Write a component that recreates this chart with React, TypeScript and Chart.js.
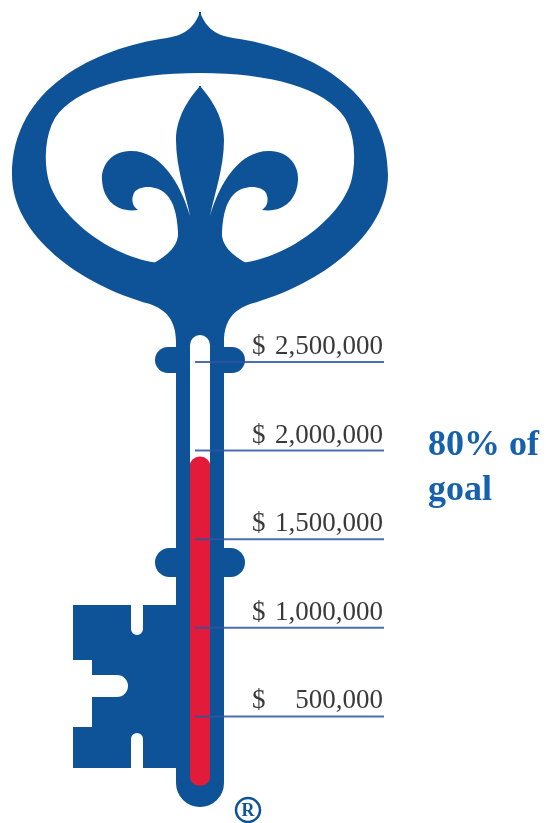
import React, { useEffect, useRef } from 'react';
import { Chart, registerables } from 'chart.js';

Chart.register(...registerables);

// ---- data ----
const categories = ['Raised'];
const raisedRange: [number, number][] = [[110000, 1965000]];
const tickValues = [500000, 1000000, 1500000, 2000000, 2500000];
const tickLabels = ['500,000', '1,000,000', '1,500,000', '2,000,000', '2,500,000'];
const currencySymbol = '$';
const goalLines = ['80% of', 'goal'];
const scaleMin = 0;
const scaleMax = 2500000;

const KEY_BLUE = '#0e5397';
const BAR_RED = '#e31b3b';
const LINE_BLUE = 'rgba(45, 85, 165, 0.85)';
const LABEL_GRAY = '#3a3a3a';
const GOAL_BLUE = '#1561ae';

function mirrored(ctx: CanvasRenderingContext2D, draw: () => void, color: string) {
  ctx.fillStyle = color;
  ctx.beginPath();
  draw();
  ctx.fill();
  ctx.save();
  ctx.translate(400, 0);
  ctx.scale(-1, 1);
  ctx.beginPath();
  draw();
  ctx.fill();
  ctx.restore();
}

function pill(ctx: CanvasRenderingContext2D, x: number, y: number, w: number, h: number) {
  const r = h / 2;
  ctx.beginPath();
  ctx.moveTo(x + r, y);
  ctx.lineTo(x + w - r, y);
  ctx.arc(x + w - r, y + r, r, -Math.PI / 2, Math.PI / 2, false);
  ctx.lineTo(x + r, y + h);
  ctx.arc(x + r, y + r, r, Math.PI / 2, Math.PI * 1.5, false);
  ctx.closePath();
  ctx.fill();
}

const keyPlugin = {
  id: 'keyShape',
  beforeDatasetsDraw(chart: any) {
    const ctx: CanvasRenderingContext2D = chart.ctx;
    ctx.save();
    // outer head
    mirrored(ctx, () => {
      ctx.moveTo(201, 12);
      ctx.lineTo(200, 12);
      ctx.bezierCurveTo(195, 26, 186, 35, 167, 38);
      ctx.bezierCurveTo(95, 48, 12, 88, 12, 175);
      ctx.bezierCurveTo(12, 235, 80, 285, 150, 304);
      ctx.bezierCurveTo(166, 310, 176, 320, 176, 342);
      ctx.lineTo(201, 342);
      ctx.closePath();
    }, KEY_BLUE);
    // inner hole
    mirrored(ctx, () => {
      ctx.moveTo(201, 73);
      ctx.lineTo(200, 73);
      ctx.bezierCurveTo(130, 73, 75, 88, 55, 118);
      ctx.bezierCurveTo(45, 135, 44, 160, 48, 178);
      ctx.bezierCurveTo(56, 215, 110, 258, 160, 263);
      ctx.bezierCurveTo(175, 265, 190, 268, 201, 268);
      ctx.closePath();
    }, '#ffffff');
    // fleur-de-lis
    mirrored(ctx, () => {
      ctx.moveTo(201, 86);
      ctx.lineTo(200, 86);
      ctx.bezierCurveTo(192, 95, 176, 115, 176, 140);
      ctx.bezierCurveTo(176, 168, 186, 195, 190, 216);
      ctx.bezierCurveTo(180, 182, 160, 150, 130, 151);
      ctx.bezierCurveTo(112, 151, 101, 165, 102, 180);
      ctx.bezierCurveTo(103, 200, 117, 213, 138, 210);
      ctx.bezierCurveTo(132, 206, 131, 199, 134, 193);
      ctx.bezierCurveTo(138, 186, 155, 184, 166, 194);
      ctx.bezierCurveTo(174, 202, 177, 215, 178, 232);
      ctx.bezierCurveTo(179, 244, 170, 255, 150, 265);
      ctx.lineTo(150, 290);
      ctx.lineTo(201, 290);
      ctx.closePath();
    }, KEY_BLUE);
    // shaft
    ctx.fillStyle = KEY_BLUE;
    ctx.beginPath();
    ctx.moveTo(176, 330);
    ctx.lineTo(176, 783);
    ctx.arc(200, 783, 24, Math.PI, 0, true);
    ctx.lineTo(224, 330);
    ctx.closePath();
    ctx.fill();
    // knobs
    pill(ctx, 155, 347, 90, 26);
    pill(ctx, 155, 548, 90, 29);
    // bit
    ctx.beginPath();
    ctx.moveTo(73, 605);
    ctx.lineTo(131, 605);
    ctx.lineTo(131, 629);
    ctx.arc(137, 629, 6, Math.PI, 0, true);
    ctx.lineTo(143, 605);
    ctx.lineTo(180, 605);
    ctx.lineTo(180, 768);
    ctx.lineTo(143, 768);
    ctx.lineTo(143, 739);
    ctx.arc(137, 739, 6, 0, Math.PI, true);
    ctx.lineTo(131, 768);
    ctx.lineTo(73, 768);
    ctx.lineTo(73, 727);
    ctx.lineTo(92, 727);
    ctx.lineTo(92, 697);
    ctx.lineTo(117, 697);
    ctx.arc(117, 686, 11, Math.PI / 2, -Math.PI / 2, true);
    ctx.lineTo(92, 675);
    ctx.lineTo(92, 660);
    ctx.lineTo(73, 660);
    ctx.closePath();
    ctx.fill();
    // white channel
    ctx.fillStyle = '#ffffff';
    ctx.beginPath();
    ctx.moveTo(190, 775);
    ctx.lineTo(190, 345);
    ctx.arc(200, 345, 10, Math.PI, 0, false);
    ctx.lineTo(210, 775);
    ctx.arc(200, 775, 10, 0, Math.PI, false);
    ctx.closePath();
    ctx.fill();
    ctx.restore();
  },
  afterDatasetsDraw(chart: any) {
    const ctx: CanvasRenderingContext2D = chart.ctx;
    const ys = chart.scales.y;
    ctx.save();
    tickValues.forEach((v, i) => {
      const y = ys.getPixelForValue(v);
      ctx.strokeStyle = LINE_BLUE;
      ctx.lineWidth = 2;
      ctx.beginPath();
      ctx.moveTo(195, y);
      ctx.lineTo(384, y);
      ctx.stroke();
      ctx.fillStyle = LABEL_GRAY;
      ctx.font = '27px "Liberation Serif", "Times New Roman", serif';
      ctx.textBaseline = 'alphabetic';
      ctx.textAlign = 'left';
      ctx.fillText(currencySymbol, 252, y - 8);
      ctx.textAlign = 'right';
      ctx.fillText(tickLabels[i], 383, y - 8);
    });
    // goal text
    ctx.fillStyle = GOAL_BLUE;
    ctx.font = 'bold 36px "Liberation Serif", "Times New Roman", serif';
    ctx.textAlign = 'left';
    ctx.fillText(goalLines[0], 428, 455);
    ctx.fillText(goalLines[1], 428, 500);
    // registered mark
    ctx.strokeStyle = KEY_BLUE;
    ctx.lineWidth = 2.5;
    ctx.beginPath();
    ctx.arc(248, 810, 12, 0, Math.PI * 2);
    ctx.stroke();
    ctx.fillStyle = KEY_BLUE;
    ctx.font = 'bold 18px "Liberation Serif", serif';
    ctx.textAlign = 'center';
    ctx.textBaseline = 'middle';
    ctx.fillText('R', 248, 811);
    ctx.restore();
  },
};

export default function App() {
  const ref = useRef<HTMLCanvasElement>(null);
  useEffect(() => {
    document.body.style.margin = '0';
    const canvas = ref.current!;
    const chart = new Chart(canvas, {
      type: 'bar',
      data: {
        labels: categories,
        datasets: [
          {
            data: raisedRange as any,
            backgroundColor: BAR_RED,
            borderRadius: 10,
            borderSkipped: false,
            barPercentage: 1,
            categoryPercentage: 1,
          },
        ],
      },
      options: {
        responsive: false,
        animation: false,
        devicePixelRatio: 1,
        layout: { padding: { left: 190, right: 336, top: 362, bottom: 18 } },
        plugins: { legend: { display: false }, tooltip: { enabled: false } },
        scales: {
          x: { display: false },
          y: { display: false, min: scaleMin, max: scaleMax, ticks: { stepSize: 500000 } },
        },
      },
      plugins: [keyPlugin],
    });
    return () => chart.destroy();
  }, []);
  return <canvas ref={ref} width={546} height={823} style={{ display: 'block' }} />;
}
